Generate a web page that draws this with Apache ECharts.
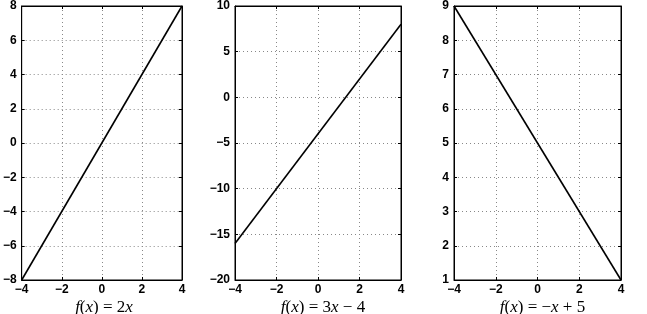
<!DOCTYPE html>
<html><head><meta charset="utf-8">
<script src="https://cdn.jsdelivr.net/npm/echarts@6/dist/echarts.min.js"></script>
<style>html,body{margin:0;padding:0;background:#fff}#c{width:647px;height:314px}</style>
</head><body><div id="c"></div>
<script>
const xValues = [-4, 4];
const y1 = [-8, 8];
const y2 = [-16, 8];
const y3 = [9, 1];
const xTicks = {min: -4, max: 4, interval: 2};
const yRanges = [{min: -8, max: 8, interval: 2}, {min: -20, max: 10, interval: 5}, {min: 1, max: 9, interval: 1}];
const titles = [
  '{i|f}{r|(}{i|x}{r|) = 2}{i|x}',
  '{i|f}{r|(}{i|x}{r|) = 3}{i|x}{r| − 4}',
  '{i|f}{r|(}{i|x}{r|) = −}{i|x}{r| + 5}'
];
const seriesY = [y1, y2, y3];

const grids = [
  {left: 16, top: 4, width: 166, height: 276},
  {left: 235, top: 4, width: 166, height: 276},
  {left: 454, top: 4, width: 167, height: 276}
];
const fmt = v => String(v).replace('-', '−');
const lab = {color: '#000', fontFamily: 'Liberation Sans, Arial, sans-serif', fontSize: 12, fontWeight: 'bold', formatter: fmt};
const line = {show: true, onZero: false, lineStyle: {color: '#000'}};
const tick = {show: true, inside: true, length: 3, lineStyle: {color: '#000'}};
const split = {show: true, lineStyle: {type: [1, 3], color: '#888'}};
const xAxes = [], yAxes = [], series = [], titleArr = [];
grids.forEach((g, k) => {
  g.show = true; g.borderColor = '#000'; g.borderWidth = 1; g.containLabel = false;
  xAxes.push({type: 'value', gridIndex: k, position: 'bottom', min: xTicks.min, max: xTicks.max, interval: xTicks.interval,
    axisLine: line, axisTick: tick, axisLabel: Object.assign({margin: 4}, lab), splitLine: split});
  xAxes.push({type: 'value', gridIndex: k, position: 'top', min: xTicks.min, max: xTicks.max, interval: xTicks.interval,
    axisLine: line, axisTick: tick, axisLabel: {show: false}, splitLine: {show: false}});
  const r = yRanges[k];
  yAxes.push({type: 'value', gridIndex: k, position: 'left', min: r.min, max: r.max, interval: r.interval,
    axisLine: line, axisTick: tick, axisLabel: Object.assign({margin: 5}, lab), splitLine: split});
  yAxes.push({type: 'value', gridIndex: k, position: 'right', min: r.min, max: r.max, interval: r.interval,
    axisLine: line, axisTick: tick, axisLabel: {show: false}, splitLine: {show: false}});
  series.push({type: 'line', xAxisIndex: 2 * k, yAxisIndex: 2 * k, data: xValues.map((x, i) => [x, seriesY[k][i]]),
    showSymbol: false, lineStyle: {color: '#000', width: 1.6}, silent: true, animation: false});
  titleArr.push({text: titles[k], left: g.left + g.width / 2, top: 294, textAlign: 'center',
    textStyle: {fontWeight: 'normal', rich: {
      i: {fontFamily: 'Liberation Serif, DejaVu Serif, serif', fontStyle: 'italic', fontWeight: 'normal', fontSize: 17, color: '#000'},
      r: {fontFamily: 'Liberation Serif, DejaVu Serif, serif', fontWeight: 'normal', fontSize: 17, color: '#000'}
    }}});
});
const chart = echarts.init(document.getElementById('c'), null, {renderer: 'canvas'});
chart.setOption({animation: false, grid: grids, xAxis: xAxes, yAxis: yAxes, series: series, title: titleArr});
</script></body></html>
